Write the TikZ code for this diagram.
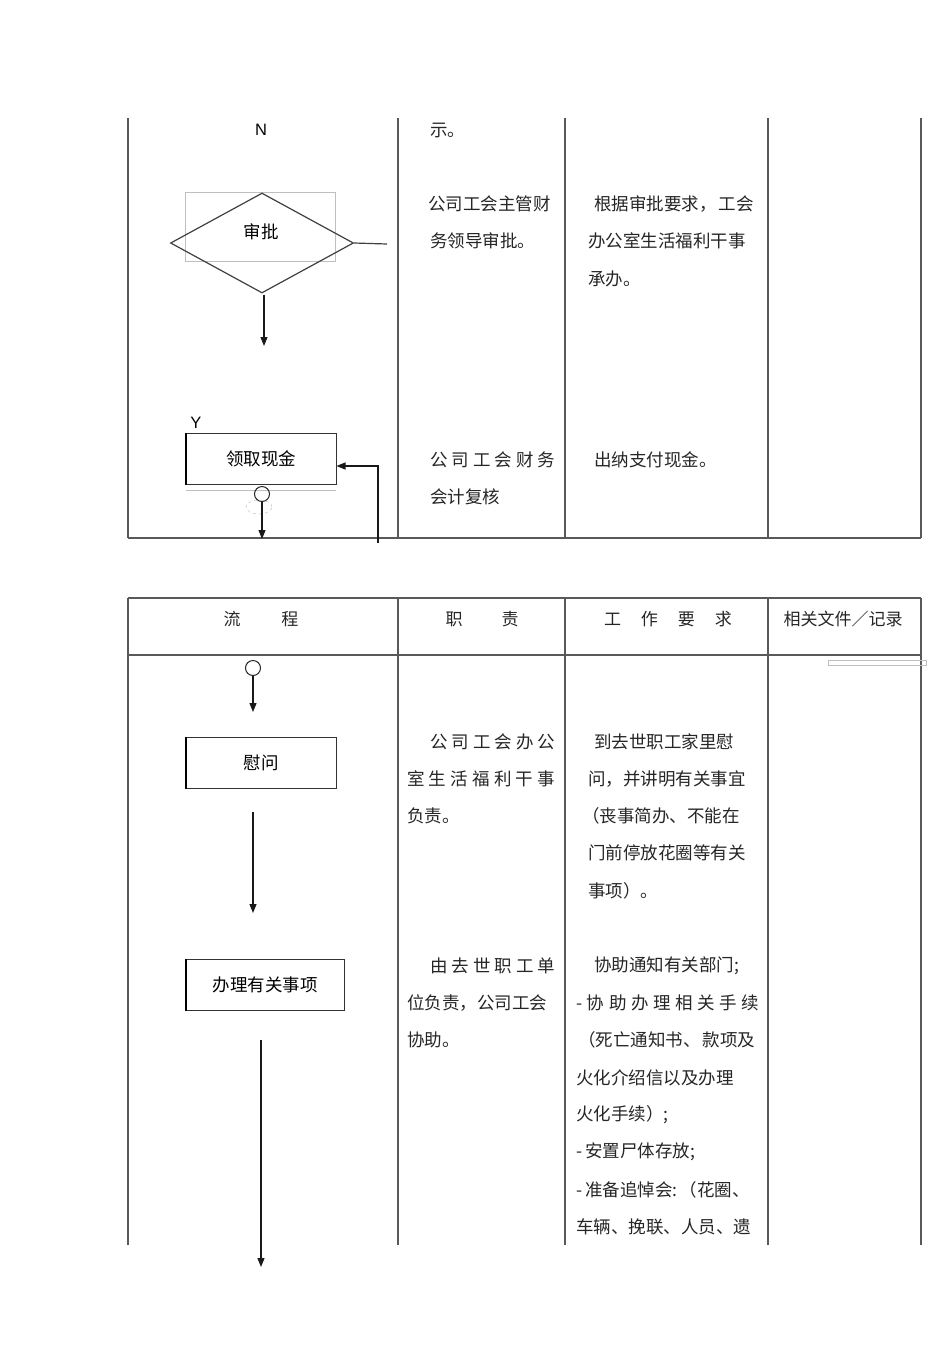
\documentclass[tikz,border=0pt]{standalone}
\usepackage{fontspec}
\setmainfont{Liberation Sans}
\newfontfamily\cjk{Noto Sans CJK SC}
\usetikzlibrary{arrows.meta,shapes.geometric}
\newcommand{\spr}[2]{\makebox[#1][s]{#2}}
\begin{document}
\begin{tikzpicture}[x=1pt,y=-1pt,
  grid/.style={draw=black!65, line width=1.4pt},
  flowbox/.style={draw=black!80, line width=1pt, minimum width=150pt, minimum height=51pt, inner sep=0pt, font=\cjk\fontsize{17.5}{18}\selectfont},
  txt/.style={anchor=west, inner sep=0pt, font=\cjk\fontsize{17.5}{18}\selectfont, text=black!85},
  hdr/.style={inner sep=0pt, font=\cjk\fontsize{17}{18}\selectfont, text=black!85},
  arr/.style={-{Triangle[length=9pt,width=7pt]}, line width=1.2pt, draw=black!90},
  faint/.style={draw=black!25, line width=0.6pt},
]
\useasboundingbox (0,0) rectangle (950,1345);
\fill[white] (0,0) rectangle (950,1345);

% ---------- table 1 ----------
\foreach \x in {128,398,565,768,921} \draw[grid] (\x,118) -- (\x,538);
\draw[grid] (128,538) -- (921,538);

\node[inner sep=0pt, font=\fontsize{16.5}{17}\selectfont] (lN) at (261,130) {N};
\draw[faint] (185,192) rectangle (335,261);
\node[diamond, draw=black!75, line width=1.2pt, minimum width=183pt, minimum height=100pt, aspect=1.83, inner sep=0pt] (sp) at (262,243) {};
\node[inner sep=0pt, font=\cjk\fontsize{17.5}{18}\selectfont] (spt) at (261,232) {审批};
\coordinate (spr) at (387,244);
\draw[black!75, line width=1.2pt] (sp.east) -- (spr);
\coordinate (sps) at (264,295);
\coordinate (spa) at (264,346);
\draw[arr] (sps) -- (spa);

\node[inner sep=0pt, font=\fontsize{16.5}{17}\selectfont] (lY) at (196,423) {Y};
\node[flowbox] (lq) at (261,459) {领取现金};
\draw[line width=2pt] (lq.north west) -- (lq.south west);
\draw[faint] (186,490) -- (336,490);
\node[circle, draw=black!85, line width=1pt, minimum size=15pt, inner sep=0pt] (c1) at (262,494) {};
\draw[black!20, dashed, line width=0.6pt] (259,507) ellipse (13pt and 7pt);
\coordinate (c1a) at (262,539);
\draw[arr] (c1.south) -- (c1a);
\coordinate (ret0) at (378,543);
\coordinate (ret1) at (378,466);
\draw[arr] (ret0) -- (ret1) -- (lq.east |- ret1);

\node[txt] (t1) at (430,130) {示。};
\node[txt] (t2) at (428,204) {公司工会主管财};
\node[txt] (t3) at (430,241) {务领导审批。};
\node[txt] (t4) at (594,204) {根据审批要求，\hspace{2pt}工会};
\node[txt] (t5) at (588,241) {办公室生活福利干事};
\node[txt] (t6) at (588,279) {承办。};
\node[txt] (t7) at (430,460) {\spr{125pt}{公\hfill 司\hfill 工\hfill 会\hfill 财\hfill 务}};
\node[txt] (t8) at (430,497) {会计复核};
\node[txt] (t9) at (594,460) {出纳支付现金。};

% ---------- table 2 ----------
\foreach \x in {128,398,565,768,921} \draw[grid] (\x,598) -- (\x,1245);
\draw[grid] (128,598) -- (921,598);
\draw[grid] (128,655) -- (921,655);
\node[hdr] (h1) at (261,619) {流\hspace{41pt}程};
\node[hdr] (h2) at (482,619) {职\hspace{39pt}责};
\node[hdr] (h3) at (668,619) {工\hspace{20pt}作\hspace{20pt}要\hspace{20pt}求};
\node[hdr] (h4) at (843,619) {相关文件／记录};
\draw[faint] (828,660) rectangle (926,665);

\node[circle, draw=black!85, line width=1pt, minimum size=15pt, inner sep=0pt] (c2) at (253,668) {};
\coordinate (c2a) at (253,712);
\draw[arr] (c2.south) -- (c2a);

\node[flowbox] (ww) at (261,763) {慰问};
\draw[line width=2pt] (ww.north west) -- (ww.south west);
\coordinate (a1s) at (253,812);
\coordinate (a1e) at (253,913);
\draw[arr] (a1s) -- (a1e);

\node[flowbox, minimum width=158pt] (bl) at (265,985) {办理有关事项};
\draw[line width=2pt] (bl.north west) -- (bl.south west);
\coordinate (a2s) at (261,1040);
\coordinate (a2e) at (261,1267);
\draw[arr] (a2s) -- (a2e);

\node[txt] (u1) at (430,742) {\spr{125pt}{公\hfill 司\hfill 工\hfill 会\hfill 办\hfill 公}};
\node[txt] (u2) at (407,779) {\spr{148pt}{室\hfill 生\hfill 活\hfill 福\hfill 利\hfill 干\hfill 事}};
\node[txt] (u3) at (407,816) {负责。};
\node[txt] (v1) at (594,742) {到去世职工家里慰};
\node[txt] (v2) at (588,779) {问，并讲明有关事宜};
\node[txt] (v3) at (582,816) {（丧事简办、不能在};
\node[txt] (v4) at (588,853) {门前停放花圈等有关};
\node[txt] (v5) at (588,891) {事项）。};

\node[txt] (u4) at (430,966) {\spr{125pt}{由\hfill 去\hfill 世\hfill 职\hfill 工\hfill 单}};
\node[txt] (u5) at (407,1003) {位负责，公司工会};
\node[txt] (u6) at (407,1040) {协助。};
\node[txt] (w1) at (594,966) {协助通知有关部门;};
\node[txt] (w2) at (576,1003) {\spr{183pt}{-\hfill 协\hfill 助\hfill 办\hfill 理\hfill 相\hfill 关\hfill 手\hfill 续}};
\node[txt] (w3) at (578,1040) {（死亡通知书、\hspace{2pt}款项及};
\node[txt] (w4) at (576,1078) {火化介绍信以及办理};
\node[txt] (w5) at (576,1115) {火化手续）;};
\node[txt] (w6) at (576,1152) {-\hspace{3pt}安置尸体存放;};
\node[txt] (w7) at (576,1190) {-\hspace{3pt}准备追悼会:\hspace{2pt}（花圈、};
\node[txt] (w8) at (576,1227) {车辆、挽联、人员、遗};
\end{tikzpicture}
\end{document}
